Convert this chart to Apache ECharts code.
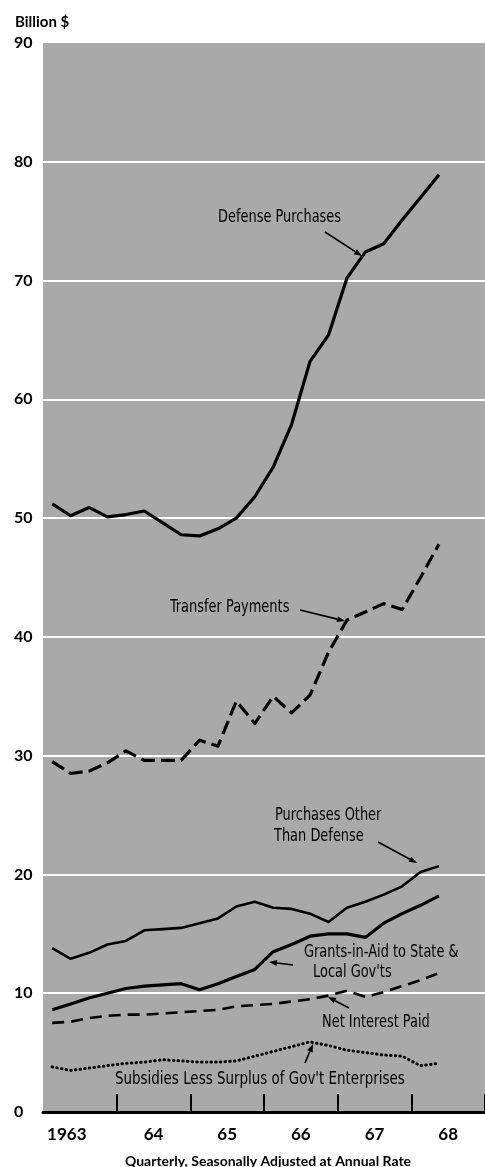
<!DOCTYPE html>
<html>
<head>
<meta charset="utf-8">
<script src="https://cdn.jsdelivr.net/npm/echarts@6/dist/echarts.min.js"></script>
<style>
html,body{margin:0;padding:0;background:#fff;}
#chart{width:485px;height:1167px;}
</style>
</head>
<body>
<div id="chart"></div>
<script>
// categories
var years = ['1963', '64', '65', '66', '67', '68'];
var quarterNames = ['I', 'II', 'III', 'IV'];
// values, billion $, 1963 I .. 1968 II
var defense     = [51.2, 50.2, 50.9, 50.1, 50.3, 50.6, 49.6, 48.6, 48.5, 49.1, 50.0, 51.8, 54.3, 57.9, 63.2, 65.4, 70.2, 72.4, 73.1, 75.1, 77.0, 78.9];
var transfer    = [29.5, 28.5, 28.7, 29.4, 30.4, 29.6, 29.6, 29.6, 31.3, 30.8, 34.6, 32.7, 35.0, 33.6, 35.1, 38.7, 41.4, 42.1, 42.8, 42.3, 45.0, 47.8];
var otherPurch  = [13.8, 12.9, 13.4, 14.1, 14.4, 15.3, 15.4, 15.5, 15.9, 16.3, 17.3, 17.7, 17.2, 17.1, 16.7, 16.0, 17.2, 17.7, 18.3, 19.0, 20.2, 20.7];
var grants      = [8.6, 9.1, 9.6, 10.0, 10.4, 10.6, 10.7, 10.8, 10.3, 10.8, 11.4, 12.0, 13.5, 14.1, 14.8, 15.0, 15.0, 14.7, 15.9, 16.7, 17.4, 18.2];
var netInterest = [7.5, 7.6, 7.9, 8.1, 8.2, 8.2, 8.3, 8.4, 8.5, 8.6, 8.9, 9.0, 9.1, 9.3, 9.5, 9.8, 10.2, 9.7, 10.1, 10.6, 11.1, 11.7];
var subsidies   = [3.8, 3.5, 3.7, 3.9, 4.1, 4.2, 4.4, 4.3, 4.2, 4.2, 4.3, 4.7, 5.1, 5.5, 5.9, 5.6, 5.2, 5.0, 4.8, 4.7, 3.9, 4.1];

var quarters = [];
for (var y = 0; y < years.length; y++) {
    for (var q = 0; q < quarterNames.length; q++) {
        quarters.push(years[y] + ' ' + quarterNames[q]);
    }
}

var condFont = "'DejaVu Sans Condensed', 'Liberation Sans', sans-serif";
var boldFont = "Lato, 'DejaVu Sans', sans-serif";

// condensed label, squeezed a bit more to match the old typeface
function label(txt, x, y, sx) {
    return {
        type: 'text', x: x, y: y, scaleX: sx || 0.8, silent: true,
        style: { text: txt, fill: '#000', font: '18px ' + condFont, align: 'left', verticalAlign: 'middle' }
    };
}

// annotation arrow: line plus small filled head at (x2, y2)
function arrow(x1, y1, x2, y2) {
    var a = Math.atan2(y2 - y1, x2 - x1), len = 8, w = 3;
    var bx = x2 - len * Math.cos(a), by = y2 - len * Math.sin(a);
    var px = -Math.sin(a) * w, py = Math.cos(a) * w;
    return {
        type: 'group', silent: true,
        children: [
            { type: 'line', shape: { x1: x1, y1: y1, x2: bx, y2: by }, style: { stroke: '#000', lineWidth: 1.6 } },
            { type: 'polygon', shape: { points: [[x2, y2], [bx + px, by + py], [bx - px, by - py]] }, style: { fill: '#000' } }
        ]
    };
}

function line(name, data, width, dash, cap) {
    return {
        name: name, type: 'line', data: data, xAxisIndex: 0,
        symbol: 'none', silent: true,
        lineStyle: { color: '#000', width: width, type: dash || 'solid', cap: cap || 'butt', join: 'round' }
    };
}

var chart = echarts.init(document.getElementById('chart'));
chart.setOption({
    animation: false,
    backgroundColor: '#fff',
    grid: { left: 43, right: -6, top: 43, bottom: 55, show: true, backgroundColor: '#a9a9a9', borderWidth: 0 },
    xAxis: [
        {
            type: 'category', data: quarters, boundaryGap: true,
            axisLine: { lineStyle: { color: '#000', width: 3 } },
            axisTick: { inside: true, length: 11, lineStyle: { color: '#000', width: 1.5 }, interval: function (i) { return i > 0; } },
            axisLabel: { show: false },
            splitLine: { show: false }
        },
        {
            type: 'category', data: years, boundaryGap: true, position: 'bottom',
            axisLine: { show: false },
            axisTick: { show: true, inside: true, length: 18, lineStyle: { color: '#000', width: 2 }, interval: function (i) { return i > 0; } },
            axisLabel: {
                interval: 0, color: '#000', fontSize: 17, fontWeight: 'bold', fontFamily: boldFont, margin: 14,
                formatter: function (v) { return v === '1963' ? '{f|' + v + '}' : v; },
                rich: { f: { fontSize: 17, fontWeight: 'bold', fontFamily: boldFont, color: '#000', padding: [0, 26, 0, 0] } }
            },
            splitLine: { show: false }
        }
    ],
    yAxis: {
        type: 'value', min: 0, max: 90, interval: 10,
        axisLine: { show: false }, axisTick: { show: false },
        axisLabel: { color: '#000', fontSize: 16, fontWeight: 'bold', fontFamily: boldFont, align: 'left', margin: 29 },
        splitLine: { show: true, showMinLine: false, showMaxLine: false, lineStyle: { color: '#fff', width: 2 } }
    },
    series: [
        line('Defense Purchases', defense, 3.2),
        line('Transfer Payments', transfer, 3.2, [14, 6]),
        line('Purchases Other Than Defense', otherPurch, 2.6),
        line("Grants-in-Aid to State & Local Gov'ts", grants, 3.2),
        line('Net Interest Paid', netInterest, 2.6, [12, 7]),
        line("Subsidies Less Surplus of Gov't Enterprises", subsidies, 3, [0.5, 4.2], 'round')
    ],
    graphic: [
        { type: 'text', x: 15, y: 22, silent: true, style: { text: 'Billion $', fill: '#000', font: 'bold 15px ' + boldFont, verticalAlign: 'middle' } },
        { type: 'text', x: 268, y: 1161, silent: true, style: { text: 'Quarterly, Seasonally Adjusted at Annual Rate', fill: '#000', font: 'bold 14px ' + boldFont, align: 'center', verticalAlign: 'middle' } },
        label('Defense Purchases', 218, 217),
        arrow(325, 232, 362, 256),
        label('Transfer Payments', 170, 607),
        arrow(300, 610, 345, 621),
        label('Purchases Other', 275, 815),
        label('Than Defense', 274, 836),
        arrow(378, 842, 417, 863),
        label('Grants-in-Aid to State &', 304, 952),
        label("Local Gov'ts", 313, 972),
        arrow(293, 965, 269, 962),
        label('Net Interest Paid', 322, 1022),
        arrow(349, 1008, 328, 997),
        label("Subsidies Less Surplus of Gov't Enterprises", 115, 1079, 0.83),
        arrow(305, 1063, 313, 1044)
    ]
});
</script>
</body>
</html>
